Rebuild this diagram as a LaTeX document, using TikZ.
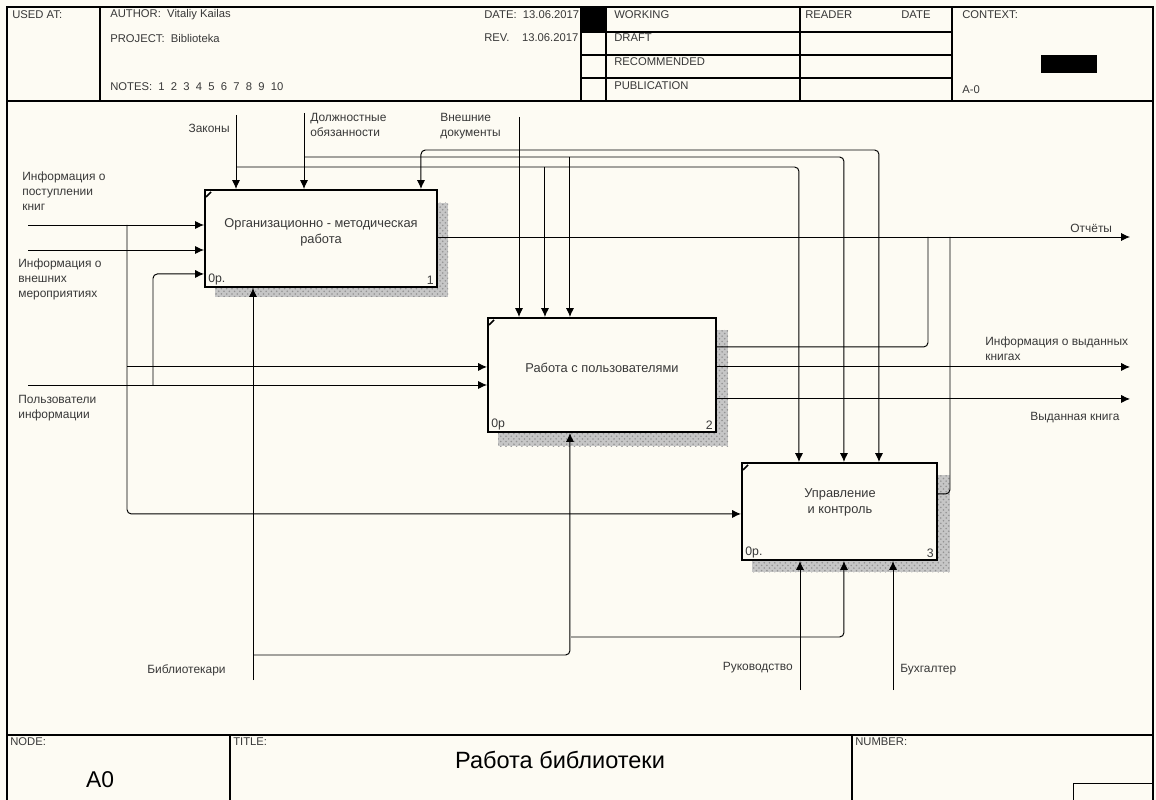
\documentclass[tikz,border=0pt]{standalone}
\usepackage{fontspec}
\setmainfont{Liberation Sans}
\usetikzlibrary{arrows.meta,calc,positioning,patterns}
\definecolor{paper}{HTML}{FDFBF3}
\definecolor{ink}{HTML}{383838}
\tikzset{
    func/.style ={draw, line width=1.2pt, fill=paper, inner sep=0pt},
    ftext/.style={inner sep=0pt, align=center, text=ink, font=\fontsize{7.3}{9.2}\selectfont},
    shade/.style={fill=gray!45, postaction={pattern=crosshatch dots, pattern color=gray!85}},
    flow/.style ={-{Latex[length=5pt,width=4.6pt]}, line width=0.55pt, rounded corners=2.5pt},
    link/.style ={line width=0.55pt, rounded corners=2.5pt},
    lbl/.style  ={inner sep=0pt, align=left, text=ink, font=\fontsize{6.8}{8.6}\selectfont},
    hdr/.style  ={inner sep=0pt, anchor=west, text=ink, font=\fontsize{6.4}{7}\selectfont},
    num/.style  ={inner sep=0pt, text=ink, font=\fontsize{7}{8}\selectfont}
}

\begin{document}
\begin{tikzpicture}[x=0.02cm,y=-0.02cm]
    \fill[paper] (0,0) rectangle (1156,800);
    \useasboundingbox (0,0) rectangle (1156,800);

    % frame, header and footer
    \draw[line width=0.7pt] (7,801) -- (7,7) -- (1153,7) -- (1153,801);
    \draw[line width=0.7pt] (7,101) -- (1153,101);
    \foreach \x in {100,581,606,800,952} \draw[line width=0.6pt] (\x,7) -- (\x,101);
    \foreach \y in {32,55,78} \draw[line width=0.6pt] (581,\y) -- (952,\y);
    \fill (581,7) rectangle (606,32);
    \fill (1041,55) rectangle (1097,73);
    \draw[line width=0.7pt] (7,735) -- (1153,735);
    \draw[line width=0.6pt] (230,735) -- (230,801);
    \draw[line width=0.6pt] (852,735) -- (852,801);
    \draw[line width=0.5pt] (1073,801) |- (1153,783);

    \node[hdr] (used) at (12,15) {USED AT:};
    \node[hdr] (auth) at (110,15) {AUTHOR:\ \ Vitaliy Kailas};
    \node[hdr] (proj) at (110,38) {PROJECT:\ \ Biblioteka};
    \node[hdr] (notes) at (110,87) {NOTES:\ \ 1\ \ 2\ \ 3\ \ 4\ \ 5\ \ 6\ \ 7\ \ 8\ \ 9\ \ 10};
    \node[hdr] (date) at (484,15) {DATE:\ \ 13.06.2017};
    \node[hdr] (rev) at (484,38) {REV.\ \ \ \ 13.06.2017};
    \node[hdr] (work) at (614,15) {WORKING};
    \node[hdr] (draft) at (614,38) {DRAFT};
    \node[hdr] (recom) at (614,62) {RECOMMENDED};
    \node[hdr] (publ) at (614,86) {PUBLICATION};
    \node[hdr] (read) at (805,15) {READER};
    \node[hdr] (rdate) at (901,15) {DATE};
    \node[hdr] (ctx) at (962,15) {CONTEXT:};
    \node[hdr] (ctxa) at (962,90) {A-0};
    \node[hdr] (fnode) at (10,742) {NODE:};
    \node[hdr] (ftitle) at (233,742) {TITLE:};
    \node[hdr] (fnum) at (855,742) {NUMBER:};
    \node[inner sep=0pt, font=\fontsize{13}{14}\selectfont] (fa0) at (100,780) {A0};
    \node[inner sep=0pt, font=\fontsize{13.4}{14}\selectfont] (ftxt) at (560,760) {Работа библиотеки};

    % activity boxes
    \fill[shade] (215,203) rectangle (448,297);
    \fill[shade] (498,330) rectangle (728,446);
    \fill[shade] (752,475) rectangle (950,572);
    \node[func, minimum width=4.64cm, minimum height=1.94cm] (b1) at (321,238.5) {};
    \node[func, minimum width=4.56cm, minimum height=2.28cm] (b2) at (602,375) {};
    \node[func, minimum width=3.9cm, minimum height=1.94cm] (b3) at (839.5,511.5) {};
    \node[ftext] (b1t) at (321,232) {Организационно - методическая\\работа};
    \node[ftext] (b2t) at (602,368) {Работа с пользователями};
    \node[ftext] (b3t) at (840,502) {Управление\\и контроль};
    \foreach \b/\o/\n in {b1/0р./1, b2/0р/2, b3/0р./3}{
        \draw[line width=0.9pt] ($(\b.north west)+(2,8)$) -- ++(5,-5);
        \node[num, anchor=south west] (\b o) at ($(\b.south west)+(4,-3)$) {\o};
        \node[num, anchor=south east] (\b n) at ($(\b.south east)+(-4,-3)$) {\n};
    }

    % controls
    \coordinate (law) at (236,115);
    \coordinate (duty) at (304,113);
    \coordinate (docs) at (519,117);
    \coordinate (lawj) at (236,167);
    \coordinate (dutyj) at (304,157);
    \coordinate (docsj) at (519,150);
    \coordinate (b1c3) at ($(b1.north west)+(217,0)$);
    \coordinate (b2c2) at ($(b2.north west)+(58,0)$);
    \coordinate (b2c3) at ($(b2.north west)+(83,0)$);
    \coordinate (b3c1) at ($(b3.north west)+(58,0)$);
    \coordinate (b3c2) at ($(b3.north west)+(103,0)$);
    \coordinate (b3c3) at ($(b3.north west)+(138,0)$);
    \draw[flow] (law) -- (law |- b1.north);
    \draw[flow] (duty) -- (duty |- b1.north);
    \draw[flow] (docs) -- (docs |- b2.north);
    \draw[flow] (docsj) -| (b1c3);
    \draw[flow] (docsj) -| (b3c3);
    \draw[flow] (dutyj) -| (b3c2);
    \draw[flow] (lawj) -| (b3c1);
    \draw[flow] (b2c2 |- lawj) -- (b2c2);
    \draw[flow] (b2c3 |- dutyj) -- (b2c3);

    % inputs
    \coordinate (inBook) at (28,225);
    \coordinate (inEvent) at (28,250);
    \coordinate (inUser) at (28,385);
    \coordinate (bookj) at (127,225);
    \coordinate (userj) at (153,385);
    \coordinate (b1i3) at ($(b1.north west)+(0,85)$);
    \coordinate (b2i1) at ($(b2.north west)+(0,50)$);
    \coordinate (b3i1) at ($(b3.north west)+(0,52)$);
    \draw[flow] (inBook) -- (inBook -| b1.west);
    \draw[flow] (inEvent) -- (inEvent -| b1.west);
    \draw[flow] (inUser) -- (inUser -| b2.west);
    \draw[flow] (bookj) |- (b3i1);
    \draw[flow] (bookj |- b2i1) -- (b2i1);
    \draw[flow] (userj) |- (b1i3);

    % outputs
    \coordinate (outRep) at (1130,237);
    \coordinate (b2o1) at ($(b2.north east)+(0,30)$);
    \coordinate (b2o2) at ($(b2.north east)+(0,50)$);
    \coordinate (b2o3) at ($(b2.north east)+(0,82)$);
    \coordinate (b3o1) at ($(b3.north east)+(0,32)$);
    \coordinate (repj2) at (928,237);
    \coordinate (repj3) at (950,237);
    \draw[flow] (outRep -| b1.east) -- (outRep);
    \draw[flow] (b2o2) -- (b2o2 -| outRep);
    \draw[flow] (b2o3) -- (b2o3 -| outRep);
    \draw[link] (b2o1) -| (repj2);
    \draw[link] (b3o1) -| (repj3);

    % mechanisms
    \coordinate (libr) at (253,680);
    \coordinate (librj) at (253,655);
    \coordinate (boss) at (800,690);
    \coordinate (acct) at (893,690);
    \coordinate (b2m1) at ($(b2.south west)+(83,0)$);
    \coordinate (b3m2) at ($(b3.south west)+(103,0)$);
    \coordinate (librk) at (571,637);
    \draw[flow] (libr) -- (libr |- b1.south);
    \draw[flow] (librj) -| (b2m1);
    \draw[flow] (librk) -| (b3m2);
    \draw[flow] (boss) -- (boss |- b3.south);
    \draw[flow] (acct) -- (acct |- b3.south);

    % arrow labels
    \node[lbl, anchor=north west] (lBook) at (22,171) {Информация о\\поступлении\\книг};
    \node[lbl, anchor=north west] (lEvent) at (18,258) {Информация о\\внешних\\мероприятиях};
    \node[lbl, anchor=north west] (lUser) at (18,395) {Пользователи\\информации};
    \node[lbl, anchor=east] (lLaw) at (230,128) {Законы};
    \node[lbl, anchor=north west] (lDuty) at (310,113) {Должностные\\обязанности};
    \node[lbl, anchor=north west] (lDocs) at (440,113) {Внешние\\документы};
    \node[lbl, anchor=west] (lRep) at (1070,228) {Отчёты};
    \node[lbl, anchor=north west] (lInfo) at (985,336) {Информация о выданных\\книгах};
    \node[lbl, anchor=west] (lBook2) at (1030,418) {Выданная книга};
    \node[lbl, anchor=east] (lLibr) at (226,670) {Библиотекари};
    \node[lbl, anchor=east] (lBoss) at (793,668) {Руководство};
    \node[lbl, anchor=west] (lAcct) at (900,670) {Бухгалтер};
\end{tikzpicture}
\end{document}
